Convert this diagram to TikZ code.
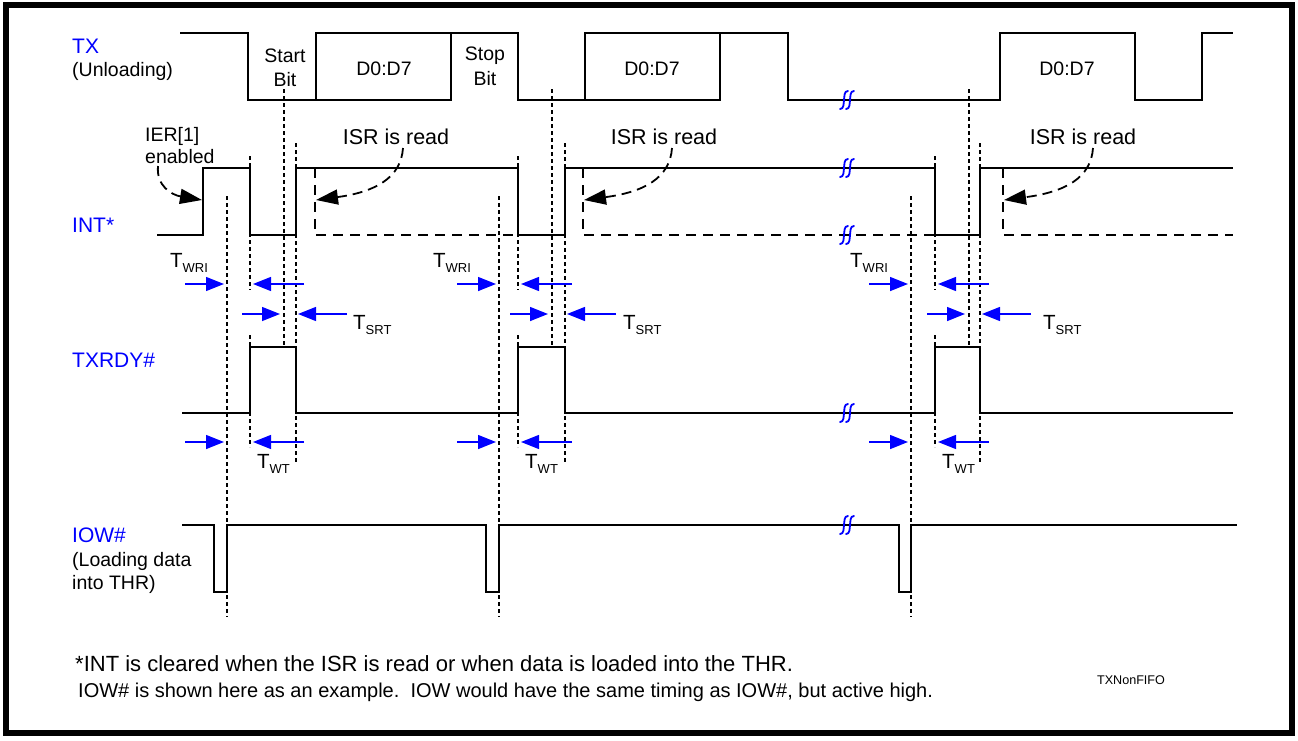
\documentclass[tikz,border=0pt]{standalone}
\usepackage{fontspec}
\setmainfont{Liberation Sans}
\usetikzlibrary{arrows.meta}

\tikzset{
  sig/.style={line width=1.8pt},
  guide/.style={line width=1.3pt,dash pattern=on 4pt off 3pt},
  isr/.style={line width=1.8pt,dash pattern=on 10pt off 7pt},
  tarr/.style={-{Triangle[length=18pt,width=14pt]},blue,line width=1.4pt},
  carr/.style={-{Triangle[length=22pt,width=15pt]},line width=1.8pt,dash pattern=on 10pt off 6pt},
  sname/.style={blue,anchor=west,inner sep=0pt,font=\fontsize{21}{21}\selectfont},
  note/.style={anchor=west,inner sep=0pt,font=\fontsize{19.5}{19.5}\selectfont},
  txt/.style={inner sep=0pt,font=\fontsize{19.5}{19.5}\selectfont},
  tlbl/.style={anchor=base west,inner sep=0pt,font=\fontsize{20.5}{20.5}\selectfont},
  brk/.pic={
    \draw[blue,line width=1.8pt,line cap=round] (-7,9) .. controls (-3,9) and (-3.5,4) .. (-3,0) .. controls (-2.5,-4) and (-3,-9) .. (1,-9);
    \draw[blue,line width=1.8pt,line cap=round] (-1,9) .. controls (3,9) and (2.5,4) .. (3,0) .. controls (3.5,-4) and (3,-9) .. (7,-9);
  }
}
\newcommand{\tsub}[1]{T\raisebox{-5pt}{\fontsize{13}{13}\selectfont #1}}

\begin{document}
\begin{tikzpicture}[x=1pt,y=-1pt,line join=miter]
  \useasboundingbox (0,0) rectangle (1298,740);
  \draw[line width=5.5pt] (6,5) rectangle (1292,733);
  \def\txh{33} \def\txl{100}   % TX levels
  \def\ih{168} \def\il{235}    % INT* levels
  \def\rh{347} \def\rl{413}    % TXRDY# levels
  \def\wh{525} \def\wl{592}    % IOW# levels

  % signal names
  \node[sname] (tx) at (72,46) {TX};
  \node[note] (txu) at (72,71) {(Unloading)};
  \node[sname] (int) at (72,225) {INT*};
  \node[sname] (rdy) at (72,360) {TXRDY\#};
  \node[sname] (iow) at (72,535) {IOW\#};
  \node[note] (iowa) at (72,561) {(Loading data};
  \node[note] (iowb) at (72,584) {into THR)};

  % TX
  \draw[sig] (180,\txh) -- (248,\txh) -- (248,\txl) -- (316,\txl) -- (316,\txh) -- (518,\txh) -- (518,\txl)
    -- (585,\txl) -- (585,\txh) -- (788,\txh) -- (788,\txl) -- (1000,\txl) -- (1000,\txh) -- (1135,\txh)
    -- (1135,\txl) -- (1202,\txl) -- (1202,\txh) -- (1233,\txh);
  \draw[sig] (316,\txl) -- (451,\txl) -- (451,\txh);
  \draw[sig] (585,\txl) -- (720,\txl) -- (720,\txh);
  \node[txt] (st1) at (285,56) {Start};
  \node[txt] (st2) at (285,80) {Bit};
  \node[txt] (sp1) at (485,56) {Stop};
  \node[txt] (sp2) at (485,79) {Bit};
  \foreach \x/\n in {384/da, 652/db, 1067/dc}
    \node[txt] (\n) at (\x,69) {D0:D7};

  % INT*
  \draw[sig] (157,\il) -- (203,\il) -- (203,\ih) -- (250,\ih) -- (250,\il) -- (296,\il) -- (296,\ih) -- (518,\ih)
    -- (518,\il) -- (565,\il) -- (565,\ih) -- (935,\ih) -- (935,\il) -- (980,\il) -- (980,\ih) -- (1233,\ih);
  \foreach \e/\f in {315/518, 583/935, 1003/1233}
    \draw[isr] (\e,\ih) -- (\e,\il) -- (\f,\il);
  \node[anchor=west,inner sep=0pt,align=left,font=\fontsize{19.5}{22}\selectfont] (ier) at (145,146) {IER[1]\\enabled};
  \draw[carr] (158,166) .. controls (156,186) and (172,195) .. (202,200);
  \foreach \e/\s/\t [count=\i] in {315/403/396, 583/672/664, 1003/1093/1083} {
    \node[inner sep=0pt,font=\fontsize{21.5}{21.5}\selectfont] (isr\i) at (\t,137) {ISR is read};
    \draw[carr] (\s,148) .. controls (\s-2,178) and (\s-28,192) .. (\e+1,200);
  }

  % TXRDY#
  \draw[sig] (182,\rl) -- (250,\rl) -- (250,\rh) -- (296,\rh) -- (296,\rl) -- (518,\rl) -- (518,\rh) -- (565,\rh)
    -- (565,\rl) -- (935,\rl) -- (935,\rh) -- (980,\rh) -- (980,\rl) -- (1233,\rl);

  % IOW#
  \draw[sig] (182,\wh) -- (214,\wh) -- (214,\wl) -- (227,\wl) -- (227,\wh) -- (486,\wh) -- (486,\wl) -- (499,\wl)
    -- (499,\wh) -- (899,\wh) -- (899,\wl) -- (911,\wl) -- (911,\wh) -- (1237,\wh);

  % break marks
  \foreach \y in {100,168,235,413,525}
    \pic at (847,\y) {brk};

  % timing guides and arrows
  \foreach \a/\b/\c/\d/\w/\s in {227/250/284/296/170/353, 499/518/552/565/433/623, 911/935/969/980/850/1043} {
    \draw[guide] (\a,196) -- (\a,617);
    \draw[guide] (\b,156) -- (\b,290) (\b,335) -- (\b,447);
    \draw[guide] (\c,89) -- (\c,347);
    \draw[guide] (\d,143) -- (\d,463);
    \draw[tarr] (\a-42,284) -- (\a-3,284);
    \draw[tarr] (\b+54,284) -- (\b+3,284);
    \draw[tarr] (\c-42,314) -- (\c-4,314);
    \draw[tarr] (\d+51,314) -- (\d+2,314);
    \draw[tarr] (\a-42,442) -- (\a-3,442);
    \draw[tarr] (\b+54,442) -- (\b+3,442);
    \node[tlbl] at (\w,267) {\tsub{WRI}};
    \node[tlbl] at (\s,329) {\tsub{SRT}};
    \node[tlbl] at (\b+7,468) {\tsub{WT}};
  }

  % notes
  \node[anchor=west,inner sep=0pt,font=\fontsize{22}{22}\selectfont] (fn1) at (75,664)
    {*INT is cleared when the ISR is read or when data is loaded into the THR.};
  \node[anchor=west,inner sep=0pt,font=\fontsize{20}{20}\selectfont] (fn2) at (78,692)
    {IOW\# is shown here as an example.\ \ IOW would have the same timing as IOW\#, but active high.};
  \node[inner sep=0pt,font=\fontsize{12.6}{12.6}\selectfont] (fig) at (1131,680) {TXNonFIFO};
\end{tikzpicture}
\end{document}
